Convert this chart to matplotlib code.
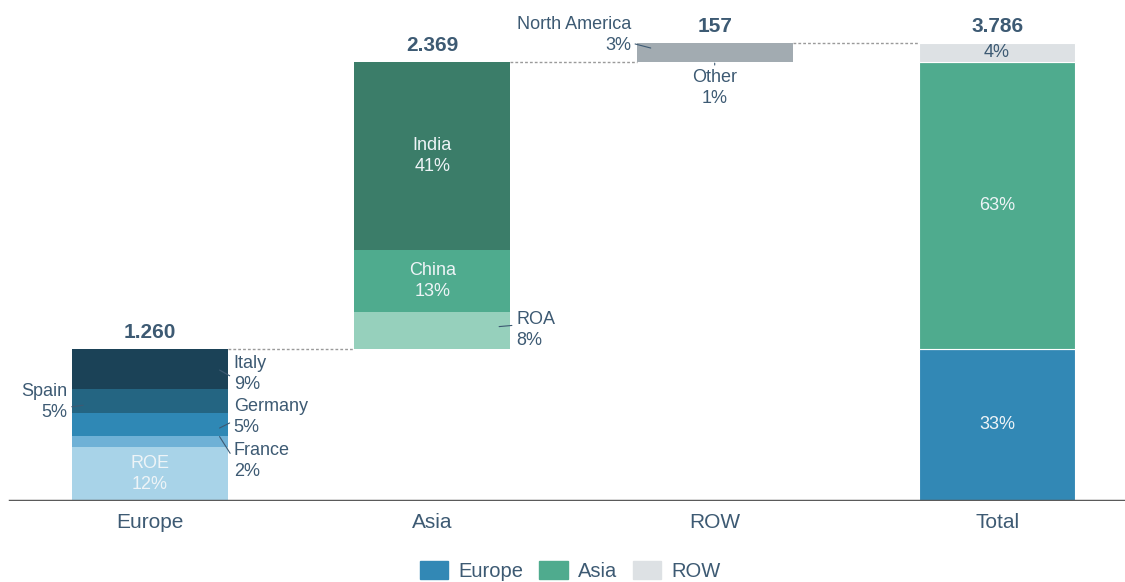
import matplotlib.pyplot as plt
from matplotlib.patches import Patch

plt.rcParams['font.family'] = ['Liberation Sans', 'DejaVu Sans']

categories = ["Europe", "Asia", "ROW", "Total"]

europe_names = ["ROE", "France", "Germany", "Spain", "Italy"]
europe_vals = [447, 91, 190, 197, 335]
europe_pct = ["12%", "2%", "5%", "5%", "9%"]

asia_names = ["ROA", "China", "India"]
asia_vals = [303, 508, 1558]
asia_pct = ["8%", "13%", "41%"]

row_names = ["North America", "Other"]
row_vals = [114, 43]
row_pct = ["3%", "1%"]

region_totals = [1260, 2369, 157]
grand_total = 3786
total_pct = ["33%", "63%", "4%"]

TXT = "#3d5a73"
europe_cols = ["#a8d3e8", "#6fb1d6", "#2f88b5", "#246582", "#1b4257"]
asia_cols = ["#96d0bc", "#4fab8e", "#3b7d69"]
row_col = "#a2abb1"
total_cols = ["#3288b5", "#4fab8e", "#dde1e4"]
FS = 13
LS = 1.3

fig = plt.figure(figsize=(11.25, 5.82), dpi=100)
ax = fig.add_axes([0, 81 / 582, 1, 501 / 582])
ax.set_xlim(-0.531, 3.453)
ax.set_ylim(0, 4141)
W = 0.553


def fmt(v):
    return f"{v:,}".replace(",", ".")


def leader(text, xy, xytext, ha, va, relpos):
    ax.annotate(text, xy=xy, xytext=xytext, ha=ha, va=va, fontsize=FS,
                color=TXT, linespacing=LS,
                arrowprops=dict(arrowstyle='-', color=TXT, lw=0.8,
                                shrinkA=1, shrinkB=0, relpos=relpos))


# Europe
bottom = 0
mids = []
for v, c in zip(europe_vals, europe_cols):
    ax.bar(0, v, W, bottom=bottom, color=c, linewidth=0)
    mids.append(bottom + v / 2)
    bottom += v
ax.text(0, mids[0], f"{europe_names[0]}\n{europe_pct[0]}", ha='center',
        va='center', fontsize=FS, color="#eef4f7", linespacing=LS)
r = W / 2
leader(f"{europe_names[4]}\n{europe_pct[4]}", (r - 0.03, mids[4] - 10),
       (r + 0.02, mids[4] - 45), 'left', 'center', (0, 0.4))
leader(f"{europe_names[2]}\n{europe_pct[2]}", (r - 0.03, mids[2] - 30),
       (r + 0.02, mids[2] + 60), 'left', 'center', (0, 0.4))
leader(f"{europe_names[1]}\n{europe_pct[1]}", (r - 0.03, mids[1] + 40),
       (r + 0.02, mids[1] - 160), 'left', 'center', (0, 0.55))
leader(f"{europe_names[3]}\n{europe_pct[3]}", (-r + 0.04, mids[3] - 35),
       (-r - 0.015, mids[3] - 5), 'right', 'center', (1, 0.35))

# Asia
bottom = region_totals[0]
mids = []
for v, c in zip(asia_vals, asia_cols):
    ax.bar(1, v, W, bottom=bottom, color=c, linewidth=0)
    mids.append(bottom + v / 2)
    bottom += v
for i in (1, 2):
    ax.text(1, mids[i], f"{asia_names[i]}\n{asia_pct[i]}", ha='center',
            va='center', fontsize=FS, color="#eef4f7", linespacing=LS)
leader(f"{asia_names[0]}\n{asia_pct[0]}", (1 + r - 0.04, mids[0] + 30),
       (1 + r + 0.02, mids[0] + 5), 'left', 'center', (0, 0.62))

# ROW
bottom = region_totals[0] + region_totals[1]
row_bottom = bottom
for v in row_vals:
    ax.bar(2, v, W, bottom=bottom, color=row_col, linewidth=0)
    bottom += v
leader(f"{row_names[0]}\n{row_pct[0]}", (2 - r + 0.05, row_bottom + 115),
       (2 - r - 0.02, row_bottom + 220), 'right', 'center', (1, 0.3))
leader(f"{row_names[1]}\n{row_pct[1]}", (2, row_bottom - 10),
       (2, row_bottom - 60), 'center', 'top', (0.5, 1))

# Total
bottom = 0
for v, c, p in zip(region_totals, total_cols, total_pct):
    ax.bar(3, v, W, bottom=bottom, color=c, edgecolor="white", linewidth=0.8)
    tc = TXT if c == total_cols[2] else "#eef4f7"
    ax.text(3, bottom + v / 2, p, ha='center', va='center', fontsize=FS,
            color=tc)
    bottom += v

# value labels and connectors
tops = [region_totals[0], region_totals[0] + region_totals[1], grand_total,
        grand_total]
labels = region_totals + [grand_total]
for i, (t, v) in enumerate(zip(tops, labels)):
    ax.annotate(fmt(v), (i, t), xytext=(0, 5), textcoords='offset points',
                ha='center', va='bottom', fontsize=15, fontweight='bold',
                color=TXT)
    if i < 3:
        ax.plot([i + r, i + 1 - r], [t, t], ls=(0, (2, 1.5)), color="#9a9a9a",
                lw=1)

ax.axhline(0, xmin=10 / 1125, xmax=1, color="#5a5a5a", lw=2.5)
for s in ax.spines.values():
    s.set_visible(False)
ax.set_yticks([])
ax.set_xticks(range(len(categories)))
ax.set_xticklabels(categories, fontsize=15, color=TXT)
ax.tick_params(axis='x', length=0, pad=9)

handles = [Patch(color=c) for c in total_cols]
fig.legend(handles, ["Europe", "Asia", "ROW"], loc='center',
           bbox_to_anchor=(0.507, 1 - 571 / 582), ncol=3, frameon=False,
           fontsize=14.5, labelcolor=TXT, handlelength=1.4, handleheight=1.0,
           handletextpad=0.5, columnspacing=0.8)

fig.savefig("out.png", dpi=100)
